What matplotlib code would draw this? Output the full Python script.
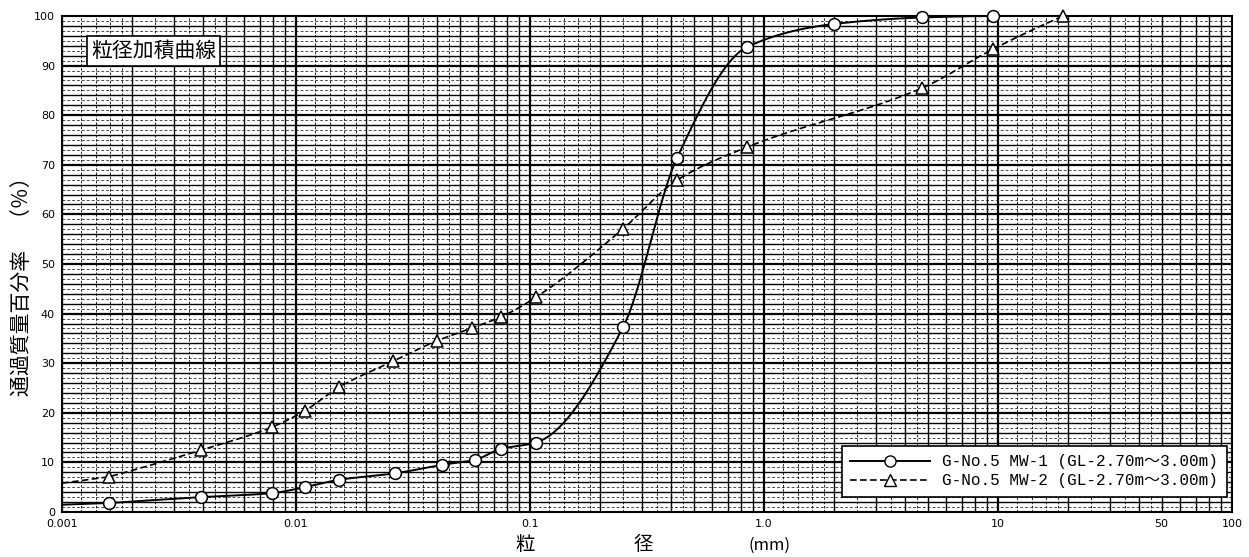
import numpy as np
import matplotlib.pyplot as plt

plt.rcParams['font.family'] = ['DejaVu Sans', 'Noto Sans CJK JP']

# 粒径 (mm) と通過質量百分率 (%)
mw1_size = [0.00159, 0.00394, 0.00787, 0.0109, 0.0153, 0.0265, 0.042, 0.058,
            0.075, 0.106, 0.25, 0.425, 0.85, 2.0, 4.75, 9.5]
mw1_pass = [1.8, 3.0, 3.8, 5.0, 6.5, 7.8, 9.5, 10.5,
            12.7, 14.0, 37.3, 71.4, 93.8, 98.4, 99.7, 100.0]

mw2_size = [0.00159, 0.00394, 0.00787, 0.0109, 0.0153, 0.026, 0.040, 0.0565,
            0.075, 0.106, 0.25, 0.425, 0.85, 4.75, 9.5, 19.0]
mw2_pass = [7.1, 12.5, 17.1, 20.4, 25.2, 30.4, 34.5, 37.1,
            39.3, 43.3, 57.1, 66.9, 73.6, 85.5, 93.3, 100.0]

mw1_label = 'G-No.5 MW-1 (GL-2.70m～3.00m)'
mw2_label = 'G-No.5 MW-2 (GL-2.70m～3.00m)'

x_ticks = [0.001, 0.01, 0.1, 1.0, 10, 50, 100]
x_ticklabels = ['0.001', '0.01', '0.1', '1.0', '10', '50', '100']
y_ticks = list(range(0, 101, 10))


def smooth_curve(x, y, x_left=0.001):
    # 対数軸上の単調3次補間 (PCHIP)
    lx = np.log10(np.asarray(x, float))
    y = np.asarray(y, float)
    h = np.diff(lx)
    d = np.diff(y) / h
    m = np.zeros_like(y)
    for k in range(1, len(lx) - 1):
        if d[k - 1] * d[k] > 0:
            w1 = 2 * h[k] + h[k - 1]
            w2 = h[k] + 2 * h[k - 1]
            m[k] = (w1 + w2) / (w1 / d[k - 1] + w2 / d[k])

    def end(h0, h1, d0, d1):
        s = ((2 * h0 + h1) * d0 - h0 * d1) / (h0 + h1)
        if np.sign(s) != np.sign(d0):
            return 0.0
        if np.sign(d0) != np.sign(d1) and abs(s) > 3 * abs(d0):
            return 3 * d0
        return s

    m[0] = end(h[0], h[1], d[0], d[1])
    m[-1] = end(h[-1], h[-2], d[-1], d[-2])

    t = np.linspace(0, 1, 60)
    h00 = 2 * t**3 - 3 * t**2 + 1
    h10 = t**3 - 2 * t**2 + t
    h01 = -2 * t**3 + 3 * t**2
    h11 = t**3 - t**2
    xl = np.log10(x_left)
    xs = [np.array([xl])]
    ys = [np.array([y[0] - m[0] * (lx[0] - xl) * 0.5])]
    for k in range(len(h)):
        xs.append(lx[k] + t * h[k])
        ys.append(h00 * y[k] + h10 * h[k] * m[k] + h01 * y[k + 1] + h11 * h[k] * m[k + 1])
    xs = np.concatenate(xs)
    ys = np.clip(np.concatenate(ys), 0, 100)
    return 10**xs, ys


fig = plt.figure(figsize=(12.49, 5.57), dpi=100)
ax = fig.add_axes([62 / 1249, 1 - 512 / 557, 1170 / 1249, 496 / 557])
ax.set_xscale('log')
ax.set_xlim(0.001, 100)
ax.set_ylim(0, 100)

# 方眼 (対数目盛)
for e in range(-3, 2):
    dec = 10.0**e
    for k in [1.2, 1.4, 1.6, 1.8, 2.5, 3.5, 4.5]:
        ax.axvline(k * dec, color='black', lw=0.6, ls=(0, (3, 2)), zorder=1)
    for k in range(2, 10):
        ax.axvline(k * dec, color='black', lw=1.0, zorder=1)
    ax.axvline(dec, color='black', lw=1.6, zorder=1)
for v in range(1, 100, 2):
    ax.axhline(v, color='black', lw=0.5, ls=(0, (4, 3)), zorder=1)
for v in range(2, 100, 2):
    ax.axhline(v, color='black', lw=1.0 if v % 10 else 1.6, zorder=1)

cx, cy = smooth_curve(mw1_size, mw1_pass)
ax.plot(cx, cy, color='black', lw=1.4, zorder=3)
ax.plot(mw1_size, mw1_pass, ls='none', marker='o', ms=8.5, mfc='white',
        mec='black', mew=1.1, zorder=4, clip_on=False)

tx, ty = smooth_curve(mw2_size, mw2_pass)
ax.plot(tx, ty, color='black', lw=1.2, ls=(0, (4, 2)), zorder=3)
ax.plot(mw2_size, mw2_pass, ls='none', marker='^', ms=9, mfc='white',
        mec='black', mew=1.1, zorder=4, clip_on=False)

# 凡例
h1, = ax.plot([], [], color='black', lw=1.4, marker='o', ms=8, mfc='white', mec='black')
h2, = ax.plot([], [], color='black', lw=1.2, ls=(0, (4, 2)), marker='^', ms=8.5,
              mfc='white', mec='black')
leg = ax.legend([h1, h2], [mw1_label, mw2_label], loc='lower right',
                bbox_to_anchor=(0.9957, 0.03), borderaxespad=0, fancybox=False,
                framealpha=1, edgecolor='black', handlelength=5.0,
                handletextpad=0.75, labelspacing=0.25, borderpad=0.55,
                prop={'family': ['Liberation Mono', 'Noto Sans CJK JP'], 'size': 11.5})
leg.get_frame().set_linewidth(1.2)
leg.set_zorder(5)

ax.set_xticks(x_ticks)
ax.set_xticklabels(x_ticklabels)
ax.xaxis.set_minor_locator(plt.NullLocator())
ax.set_yticks(y_ticks)
ax.tick_params(length=0, labelsize=8, pad=5)
for s in ax.spines.values():
    s.set_linewidth(1.5)

# タイトル枠
ax.text(0.0248, 0.930, '粒径加積曲線', transform=ax.transAxes, fontsize=15,
        family='Noto Sans CJK JP', ha='left', va='center', zorder=6,
        bbox=dict(boxstyle='square,pad=0.2', fc='white', ec='black', lw=1.2))

fig.text(22 / 1249, 1 - 281 / 557, '通過質量百分率　（％）', rotation=90,
         fontsize=15, family='Noto Sans CJK JP', ha='center', va='center')
fig.text(525 / 1249, 1 - 545 / 557, '粒', fontsize=14, family='Noto Sans CJK JP',
         ha='center', va='center')
fig.text(643 / 1249, 1 - 545 / 557, '径', fontsize=14, family='Noto Sans CJK JP',
         ha='center', va='center')
fig.text(770 / 1249, 1 - 545 / 557, '(mm)', fontsize=12, family='Noto Sans CJK JP',
         ha='center', va='center')

plt.savefig('out.png', dpi=100)
